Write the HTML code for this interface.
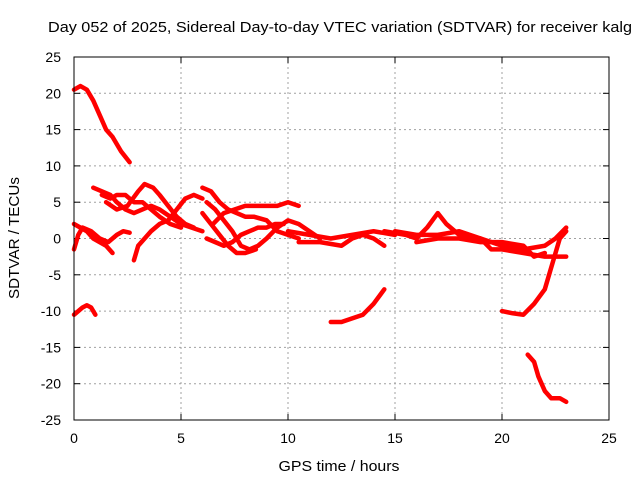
<!DOCTYPE html>
<html><head><meta charset="utf-8"><style>
body{margin:0;background:#fff}
svg{display:block;font-family:"Liberation Sans",sans-serif}
</style></head><body>
<svg id="chart" width="640" height="480">
<rect width="640" height="480" fill="#fff"/>
<text x="340" y="32" text-anchor="middle" font-size="14.5" textLength="584" lengthAdjust="spacingAndGlyphs">Day 052 of 2025, Sidereal Day-to-day VTEC variation (SDTVAR) for receiver kalg</text>
<text x="339" y="471" text-anchor="middle" font-size="14.5" textLength="121" lengthAdjust="spacingAndGlyphs">GPS time / hours</text>
<text transform="translate(19,238) rotate(-90)" text-anchor="middle" font-size="14.5" textLength="122" lengthAdjust="spacingAndGlyphs">SDTVAR / TECUs</text>
<g id="grid"></g>
<g id="axes"></g>
<g id="series"></g>
<rect x="74" y="57" width="535" height="363" fill="none" stroke="#000" stroke-width="1"/>
</svg>
<script>
const xTicks=[0,5,10,15,20,25];
const yTicks=[25,20,15,10,5,0,-5,-10,-15,-20,-25];
const track1=[[0,20.5],[0.3,21],[0.6,20.5],[0.9,19],[1.2,17],[1.5,15],[1.8,14],[2.2,12],[2.6,10.5]];
const track2=[[0,-10.5],[0.2,-10],[0.4,-9.5],[0.6,-9.2],[0.8,-9.5],[1,-10.5]];
const track3=[[0,2],[0.3,1.5],[0.6,1],[0.9,0],[1.2,-0.5],[1.5,-1],[1.8,-2]];
const track4=[[0,-1.5],[0.2,0.5],[0.4,1.5],[0.8,1],[1.2,0],[1.6,-0.5],[2,0.5],[2.3,1],[2.6,0.8]];
const track5=[[0.9,7],[1.3,6.5],[1.7,6],[2,5],[2.4,4],[2.8,3.5],[3.2,4],[3.6,4.5],[4,4],[4.5,3],[5,2],[5.5,1.5],[6,1]];
const track6=[[1.3,6],[1.7,5.5],[2,6],[2.4,6],[2.8,5],[3.2,5],[3.6,4],[4,3],[4.5,2],[5,1.5]];
const track7=[[2.8,-3],[3,-1],[3.3,0],[3.6,1],[4,2],[4.4,2.5],[4.8,4],[5.2,5.5],[5.6,6],[6,5.5]];
const track8=[[1.5,5],[2,4],[2.5,4.5],[3,6.5],[3.3,7.5],[3.7,7],[4,6],[4.4,4.5],[4.8,3],[5.2,2],[5.6,1.5]];
const track9=[[6,7],[6.4,6.5],[6.8,5],[7.2,4],[7.6,3.5],[8,3],[8.4,3],[9,2.5],[9.5,1],[10,0.5],[10.5,0]];
const track10=[[6.2,5],[6.6,4],[7,2.5],[7.4,1],[7.8,-1],[8.2,-1.5],[8.6,-1],[9,0],[9.5,1.5],[10,2.5],[10.5,2],[11,1],[11.5,0]];
const track11=[[6,3.5],[6.4,2],[6.8,0.5],[7.2,-1],[7.6,-2],[8,-2],[8.5,-1.5]];
const track12=[[6.2,0],[6.6,-0.5],[7,-1],[7.4,-0.5],[7.8,0.5],[8.2,1],[8.6,1.5],[9,1.5],[9.4,2],[9.8,2]];
const track13=[[6.5,2],[7,3.5],[7.5,4],[8,4.5],[8.4,4.5],[9,4.5],[9.5,4.5],[10,5],[10.5,4.5]];
const track14=[[10,1],[11,0.5],[12,0],[13,0.5],[14,1],[15,0.5]];
const track15=[[10.5,-0.5],[11.5,-0.5],[12.5,-1],[13,0],[13.5,0.5],[14,0],[14.5,-1]];
const track16=[[12,-11.5],[12.5,-11.5],[13,-11],[13.5,-10.5],[14,-9],[14.5,-7]];
const track17=[[14.5,1],[15.5,0.5],[16,0],[16.5,1.5],[17,3.5],[17.4,2],[18,0.5],[19,0],[19.5,-1.5],[20,-1.5],[21,-2],[22,-2.5],[23,-2.5]];
const track18=[[15,1],[16,0.5],[17,0.5],[18,1],[18.5,0.5],[19,0],[20,-1],[21,-1.5],[22,-1],[22.5,0],[23,1.5]];
const track19=[[16,-0.5],[17,0],[18,0],[19,-0.5],[20,-0.5],[21,-1],[21.5,-2.5],[22,-2]];
const track20=[[20,-10],[20.5,-10.3],[21,-10.5],[21.5,-9],[22,-7],[22.4,-3],[22.7,0],[23,1]];
const track21=[[21.2,-16],[21.5,-17],[21.7,-19],[22,-21],[22.3,-22],[22.7,-22],[23,-22.5]];
const tracks=[track1,track2,track3,track4,track5,track6,track7,track8,track9,track10,track11,track12,track13,track14,track15,track16,track17,track18,track19,track20,track21];

const X0=74,X1=609,Y0=420,Y1=57;
function sx(v){return X0+(v-0)/(25-0)*(X1-X0);}
function sy(v){return Y0-(v+25)/50*(Y0-Y1);}
const NS="http://www.w3.org/2000/svg";
const grid=document.getElementById('grid'),axes=document.getElementById('axes'),ser=document.getElementById('series');
function mk(tag,attrs,parent){const e=document.createElementNS(NS,tag);for(const k in attrs)e.setAttribute(k,attrs[k]);parent.appendChild(e);return e;}
xTicks.forEach(t=>{
  const x=sx(t);
  if(t>0&&t<25){const g=mk('line',{x1:x,x2:x,y1:Y1,y2:Y0,stroke:'#a0a0a0','stroke-dasharray':'2,3'},grid);
  
  }
  mk('line',{x1:x,x2:x,y1:Y0,y2:Y0-6,stroke:'#000'},axes);
  mk('line',{x1:x,x2:x,y1:Y1,y2:Y1+6,stroke:'#000'},axes);
  const l=mk('text',{x:x,y:443,'text-anchor':'middle','font-size':'14'},axes);l.textContent=t;
  
  
});
yTicks.forEach(t=>{
  const y=sy(t);
  if(t>-25&&t<25){const g=mk('line',{x1:X0,x2:X1,y1:y,y2:y,stroke:'#a0a0a0','stroke-dasharray':'2,3'},grid);
  
  }
  mk('line',{x1:X0,x2:X0+6,y1:y,y2:y,stroke:'#000'},axes);
  mk('line',{x1:X1,x2:X1-6,y1:y,y2:y,stroke:'#000'},axes);
  const l=mk('text',{x:61,y:y+5,'text-anchor':'end','font-size':'14'},axes);l.textContent=t;
  
  
});
tracks.forEach((tr,i)=>{
  const p=mk('polyline',{points:tr.map(d=>sx(d[0])+','+sy(d[1])).join(' '),fill:'none',stroke:'#ff0000','stroke-width':4.5,'stroke-linejoin':'round','stroke-linecap':'round'},ser);
  
  
});
</script>
</body></html>
